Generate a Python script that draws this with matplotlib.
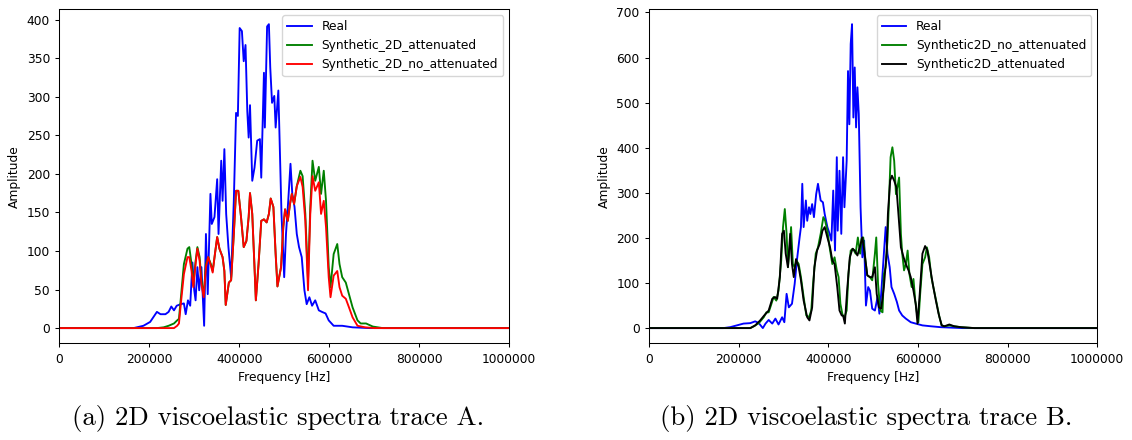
import matplotlib
matplotlib.use('Agg')
import matplotlib.pyplot as plt

# ---- datos (frecuencia en Hz, amplitud) ----
# Traza A
freq_a_real = [0, 165000, 187000, 202000, 217000, 225000, 236000, 243000, 249000, 255000, 261000,
               270000, 277000, 281000, 286000, 291000, 296000, 300000, 303000, 307000, 311000,
               316000, 322000, 326000, 330000, 336000, 339000, 345000, 351000, 354000, 360000,
               363000, 367000, 371000, 376000, 382000, 388000, 393000, 397000, 401000, 406000,
               410000, 414000, 418000, 421000, 424000, 429000, 434000, 440000, 446000, 449000,
               455000, 457000, 462000, 466000, 469000, 473000, 478000, 481000, 487000, 494000,
               500000, 504000, 509000, 514000, 518000, 523000, 528000, 533000, 539000, 545000,
               550000, 556000, 562000, 569000, 577000, 584000, 592000, 599000, 610000, 629000,
               652000, 690000, 1000000]
amp_a_real = [0, 0, 3, 8, 21, 18, 18, 21, 28, 23, 29,
              31, 32, 18, 36, 29, 85, 49, 36, 79, 49,
              79, 3, 122, 44, 174, 135, 144, 193, 122, 217,
              165, 232, 148, 105, 66, 165, 279, 275, 389, 385,
              346, 367, 281, 247, 289, 191, 208, 243, 245, 195,
              331, 260, 391, 394, 338, 292, 301, 260, 308, 148,
              66, 122, 165, 213, 174, 157, 122, 105, 92, 49,
              31, 40, 29, 36, 23, 21, 19, 10, 3, 3,
              1, 0, 0]

freq_a_att = [0, 217000, 232000, 243000, 255000, 262000, 266000, 271000, 277000, 285000, 289000,
              294000, 298000, 303000, 307000, 312000, 316000, 321000, 326000, 331000, 337000,
              341000, 346000, 351000, 356000, 363000, 367000, 370000, 377000, 382000, 388000,
              393000, 398000, 404000, 410000, 416000, 421000, 424000, 429000, 434000, 437000,
              443000, 449000, 455000, 461000, 466000, 470000, 476000, 481000, 485000, 493000,
              498000, 502000, 508000, 513000, 517000, 522000, 528000, 536000, 541000, 547000,
              553000, 558000, 563000, 569000, 577000, 582000, 588000, 593000, 599000, 603000,
              610000, 618000, 623000, 629000, 637000, 644000, 652000, 663000, 670000, 682000,
              697000, 719000, 1000000]
amp_a_att = [0, 0, 1, 3, 6, 10, 12, 44, 83, 103, 105,
             83, 55, 87, 105, 92, 62, 42, 83, 92, 83,
             74, 96, 118, 103, 92, 74, 30, 59, 62, 122,
             178, 178, 144, 105, 113, 144, 175, 148, 79, 36,
             83, 139, 141, 137, 148, 168, 157, 96, 54, 79,
             131, 154, 139, 161, 174, 161, 184, 204, 197, 148,
             62, 157, 217, 191, 209, 174, 204, 165, 79, 53,
             96, 109, 83, 66, 59, 44, 27, 10, 6, 6,
             2, 0, 0]

freq_a_noatt = [0, 255000, 262000, 266000, 271000, 277000, 285000, 289000, 294000, 298000, 303000,
                307000, 312000, 316000, 321000, 326000, 331000, 337000, 341000, 346000, 351000,
                356000, 363000, 367000, 370000, 377000, 382000, 388000, 393000, 398000, 404000,
                410000, 416000, 421000, 424000, 429000, 434000, 437000, 443000, 449000, 455000,
                461000, 466000, 470000, 476000, 481000, 485000, 493000, 498000, 502000, 508000,
                513000, 517000, 522000, 528000, 536000, 541000, 547000, 553000, 558000, 563000,
                569000, 577000, 582000, 588000, 593000, 599000, 603000, 610000, 618000, 623000,
                629000, 637000, 644000, 652000, 663000, 680000, 700000, 1000000]
amp_a_noatt = [0, 0, 3, 6, 36, 70, 92, 92, 74, 53, 83,
               103, 87, 57, 40, 79, 92, 81, 72, 96, 118,
               103, 92, 74, 30, 59, 62, 122, 178, 178, 144,
               105, 113, 144, 175, 148, 79, 36, 83, 139, 141,
               137, 148, 168, 157, 96, 54, 79, 131, 154, 139,
               161, 174, 161, 184, 196, 183, 139, 49, 148, 197,
               178, 189, 148, 165, 131, 66, 40, 68, 74, 53,
               42, 38, 27, 14, 3, 1, 0, 0]

# Traza B
freq_b_real = [0, 166000, 181000, 196000, 211000, 226000, 237000, 245000, 254000, 260000, 267000,
               275000, 282000, 289000, 297000, 302000, 307000, 312000, 319000, 325000, 330000,
               336000, 339000, 342000, 345000, 350000, 353000, 357000, 360000, 364000, 368000,
               373000, 377000, 383000, 388000, 392000, 398000, 403000, 407000, 411000, 415000,
               419000, 421000, 425000, 429000, 433000, 436000, 441000, 444000, 447000, 450000,
               453000, 456000, 459000, 462000, 465000, 468000, 472000, 476000, 480000, 484000,
               489000, 493000, 498000, 504000, 510000, 514000, 518000, 523000, 528000, 532000,
               537000, 541000, 547000, 553000, 558000, 565000, 573000, 584000, 595000, 610000,
               629000, 651000, 700000, 1000000]
amp_b_real = [0, 0, 2, 6, 10, 11, 15, 11, 0, 10, 18,
              10, 21, 8, 24, 13, 76, 46, 54, 98, 150,
              201, 224, 320, 224, 283, 238, 268, 253, 275, 246,
              297, 320, 283, 279, 253, 224, 209, 194, 305, 172,
              379, 216, 349, 209, 379, 268, 371, 570, 452, 630,
              674, 467, 578, 445, 534, 475, 268, 157, 194, 50,
              91, 83, 43, 39, 69, 32, 76, 150, 224, 165,
              135, 91, 76, 58, 39, 28, 21, 13, 10, 6,
              4, 2, 0, 0]

freq_b_noatt = [0, 226000, 234000, 245000, 256000, 262000, 267000, 272000, 278000, 284000, 289000,
                295000, 299000, 303000, 307000, 310000, 314000, 317000, 321000, 325000, 329000,
                334000, 339000, 345000, 351000, 357000, 362000, 366000, 372000, 377000, 383000,
                389000, 393000, 398000, 403000, 409000, 414000, 419000, 423000, 427000, 432000,
                436000, 441000, 445000, 450000, 455000, 461000, 466000, 471000, 474000, 478000,
                483000, 487000, 493000, 498000, 504000, 507000, 511000, 516000, 521000, 524000,
                528000, 532000, 536000, 539000, 543000, 547000, 551000, 554000, 558000, 562000,
                565000, 569000, 573000, 577000, 581000, 586000, 590000, 594000, 598000, 601000,
                605000, 610000, 616000, 620000, 625000, 630000, 636000, 642000, 648000, 653000,
                659000, 670000, 681000, 696000, 726000, 1000000]
amp_b_noatt = [0, 0, 4, 11, 24, 35, 35, 50, 69, 61, 83,
               150, 224, 264, 209, 135, 179, 224, 142, 135, 150,
               142, 113, 69, 28, 24, 39, 98, 165, 179, 209,
               246, 238, 216, 179, 142, 157, 128, 113, 54, 28,
               24, 39, 120, 172, 176, 165, 201, 165, 198, 201,
               150, 117, 113, 106, 165, 201, 98, 39, 35, 120,
               135, 194, 297, 379, 401, 371, 297, 312, 334, 209,
               165, 128, 142, 172, 120, 91, 109, 61, 32, 13,
               76, 142, 157, 179, 157, 113, 83, 54, 24, 6,
               4, 6, 4, 2, 0, 0]

freq_b_att = [0, 226000, 237000, 248000, 257000, 267000, 275000, 281000, 286000, 292000, 297000,
              301000, 305000, 310000, 315000, 319000, 323000, 328000, 334000, 339000, 345000,
              353000, 358000, 364000, 369000, 375000, 381000, 387000, 392000, 398000, 404000,
              409000, 414000, 420000, 425000, 430000, 433000, 437000, 442000, 448000, 454000,
              459000, 465000, 470000, 476000, 481000, 487000, 493000, 498000, 504000, 508000,
              513000, 518000, 524000, 530000, 533000, 538000, 542000, 547000, 552000, 557000,
              562000, 568000, 573000, 579000, 584000, 590000, 595000, 599000, 604000, 610000,
              616000, 621000, 627000, 633000, 640000, 646000, 653000, 659000, 670000, 681000,
              696000, 726000, 1000000]
amp_b_att = [0, 0, 6, 17, 28, 39, 65, 69, 65, 113, 209,
             216, 165, 135, 209, 142, 113, 153, 135, 106, 61,
             24, 17, 46, 135, 172, 187, 216, 224, 201, 179,
             150, 142, 91, 39, 28, 28, 10, 83, 157, 176,
             172, 161, 179, 201, 165, 117, 113, 113, 135, 76,
             46, 43, 91, 165, 253, 327, 338, 327, 312, 246,
             179, 157, 142, 128, 113, 83, 54, 10, 76, 165,
             182, 172, 135, 98, 61, 32, 6, 4, 8, 4,
             2, 0, 0]

plt.rcParams['font.size'] = 8.8
plt.rcParams['axes.linewidth'] = 0.75
plt.rcParams['xtick.major.size'] = 3.2
plt.rcParams['ytick.major.size'] = 3.2
plt.rcParams['xtick.major.width'] = 0.75
plt.rcParams['ytick.major.width'] = 0.75

fig = plt.figure(figsize=(11.32, 4.40), dpi=100)
ax1 = fig.add_axes([0.0524, 0.2198, 0.3973, 0.7598])
ax2 = fig.add_axes([0.5733, 0.2198, 0.3960, 0.7598])

lw = 1.35

# (a)
ax1.plot(freq_a_real, amp_a_real, color='b', lw=lw, label='Real')
ax1.plot(freq_a_att, amp_a_att, color='g', lw=lw, label='Synthetic_2D_attenuated')
ax1.plot(freq_a_noatt, amp_a_noatt, color='r', lw=lw, label='Synthetic_2D_no_attenuated')

# (b)
ax2.plot(freq_b_real, amp_b_real, color='b', lw=lw, label='Real')
ax2.plot(freq_b_noatt, amp_b_noatt, color='g', lw=lw, label='Synthetic2D_no_attenuated')
ax2.plot(freq_b_att, amp_b_att, color='k', lw=lw, label='Synthetic2D_attenuated')

for ax in (ax1, ax2):
    ax.set_xlim(0, 1000000)
    ax.set_xticks([0, 200000, 400000, 600000, 800000, 1000000])
    ax.ticklabel_format(style='plain', axis='x')
    ax.set_xlabel('Frequency [Hz]')
    ax.set_ylabel('Amplitude')
    ax.legend(loc='upper right')

ax1.set_yticks(range(0, 401, 50))
ax2.set_yticks(range(0, 701, 100))

# subtitulos tipo LaTeX
fig.text(0.2456, 0.05, '(a) 2D viscoelastic spectra trace A.', family='cmr10',
         fontsize=19.3, ha='center', va='center')
fig.text(0.765, 0.05, '(b) 2D viscoelastic spectra trace B.', family='cmr10',
         fontsize=19.3, ha='center', va='center')

fig.savefig('out.png', dpi=100)
